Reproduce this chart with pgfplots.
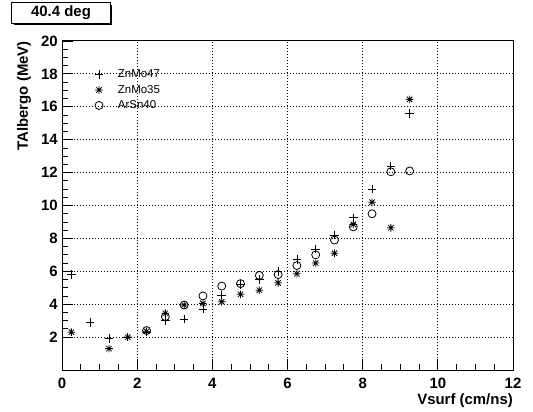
\documentclass[border=0pt]{standalone}
\usepackage{fontspec}
\setmainfont{Liberation Sans}
\usepackage{pgfplots}
\pgfplotsset{compat=1.18}

\pgfdeclareplotmark{rstar}{%
  \pgfpathmoveto{\pgfqpoint{-\pgfplotmarksize}{0pt}}\pgfpathlineto{\pgfqpoint{\pgfplotmarksize}{0pt}}%
  \pgfpathmoveto{\pgfqpoint{0pt}{-\pgfplotmarksize}}\pgfpathlineto{\pgfqpoint{0pt}{\pgfplotmarksize}}%
  \pgfpathmoveto{\pgfqpoint{-0.707\pgfplotmarksize}{-0.707\pgfplotmarksize}}\pgfpathlineto{\pgfqpoint{0.707\pgfplotmarksize}{0.707\pgfplotmarksize}}%
  \pgfpathmoveto{\pgfqpoint{-0.707\pgfplotmarksize}{0.707\pgfplotmarksize}}\pgfpathlineto{\pgfqpoint{0.707\pgfplotmarksize}{-0.707\pgfplotmarksize}}%
  \pgfusepathqstroke}

\pgfplotsset{myleg/.style={legend image code/.code={\path (0bp,0bp) (26bp,0bp); \draw[##1] plot coordinates {(9bp,0bp)};}}}

\begin{document}
\begin{tikzpicture}[x=1bp,y=1bp]
\begin{axis}[
  at={(62bp,41bp)}, anchor=south west,
  scale only axis, width=451bp, height=329bp,
  xmin=0, xmax=12, ymin=0, ymax=20,
  xtick={0,2,...,12}, ytick={2,4,...,20},
  minor x tick num=3, minor y tick num=3,
  xtick pos=left, ytick pos=left, tick align=inside,
  major tick length=11bp, minor tick length=6bp,
  axis line style={line width=1bp},
  xmajorgrids=true, ymajorgrids=true,
  major grid style={black, line width=1bp, dash pattern=on 1bp off 2bp},
  tick style={black, line width=0.8bp},
  /pgf/number format/assume math mode=true,
  ticklabel style={font=\fontsize{15}{18}\selectfont\bfseries},
  xticklabel style={inner sep=0pt, yshift=-8bp},
  yticklabel style={inner sep=0pt, xshift=-4bp},
  xlabel={Vsurf (cm/ns)},
  ylabel={TAlbergo (MeV)},
  label style={font=\fontsize{15}{18}\selectfont\bfseries},
  xlabel style={at={(axis description cs:1,0)}, anchor=base east, yshift=-34bp, inner sep=0pt},
  ylabel style={at={(axis description cs:-0.0755,1)}, anchor=base east, inner sep=0pt},
  legend style={at={(axis cs:0.73,18.35)}, anchor=north west, draw=none, fill=none,
    font=\fontsize{11.5}{12}\selectfont, row sep=3bp, inner sep=0pt,
    nodes={inner sep=1.5bp}},
  legend cell align=left,
]
\addplot[only marks, mark=+, mark size=4.3bp, line width=0.8bp, myleg] coordinates {
(0.25,5.8) (0.75,2.9) (1.25,1.9) (1.75,2.0) (2.25,2.3) (2.75,3.0) (3.25,3.1)
(3.75,3.7) (4.25,4.55) (4.75,5.2) (5.25,5.5) (5.75,6.0) (6.25,6.7) (6.75,7.35)
(7.25,8.2) (7.75,9.25) (8.25,11.0) (8.75,12.4) (9.25,15.6)};
\addlegendentry{ZnMo47}
\addplot[only marks, mark=rstar, mark size=3.8bp, line width=0.8bp, myleg] coordinates {
(0.25,2.3) (1.25,1.3) (1.75,2.0) (2.25,2.35) (2.75,3.45) (3.25,3.95) (3.75,4.05)
(4.25,4.15) (4.75,4.6) (5.25,4.85) (5.75,5.3) (6.25,5.85) (6.75,6.5) (7.25,7.1)
(7.75,8.85) (8.25,10.2) (8.75,8.65) (9.25,16.45)};
\addlegendentry{ZnMo35}
\addplot[only marks, mark=o, mark size=4bp, line width=0.8bp, myleg] coordinates {
(2.25,2.4) (2.75,3.25) (3.25,3.95) (3.75,4.5) (4.25,5.1) (4.75,5.25) (5.25,5.75)
(5.75,5.8) (6.25,6.35) (6.75,7.0) (7.25,7.9) (7.75,8.7) (8.25,9.5) (8.75,12.05) (9.25,12.1)};
\addlegendentry{ArSn40}
\end{axis}
\fill[black] (14,386) rectangle (112,406);
\node[draw, fill=white, line width=1bp, minimum width=98bp, minimum height=20bp, inner sep=0pt,
  font=\fontsize{15}{18}\selectfont\bfseries] at (61,398) {40.4 deg};
\pgfresetboundingbox
\useasboundingbox (0,0) rectangle (533,411);
\end{tikzpicture}
\end{document}
